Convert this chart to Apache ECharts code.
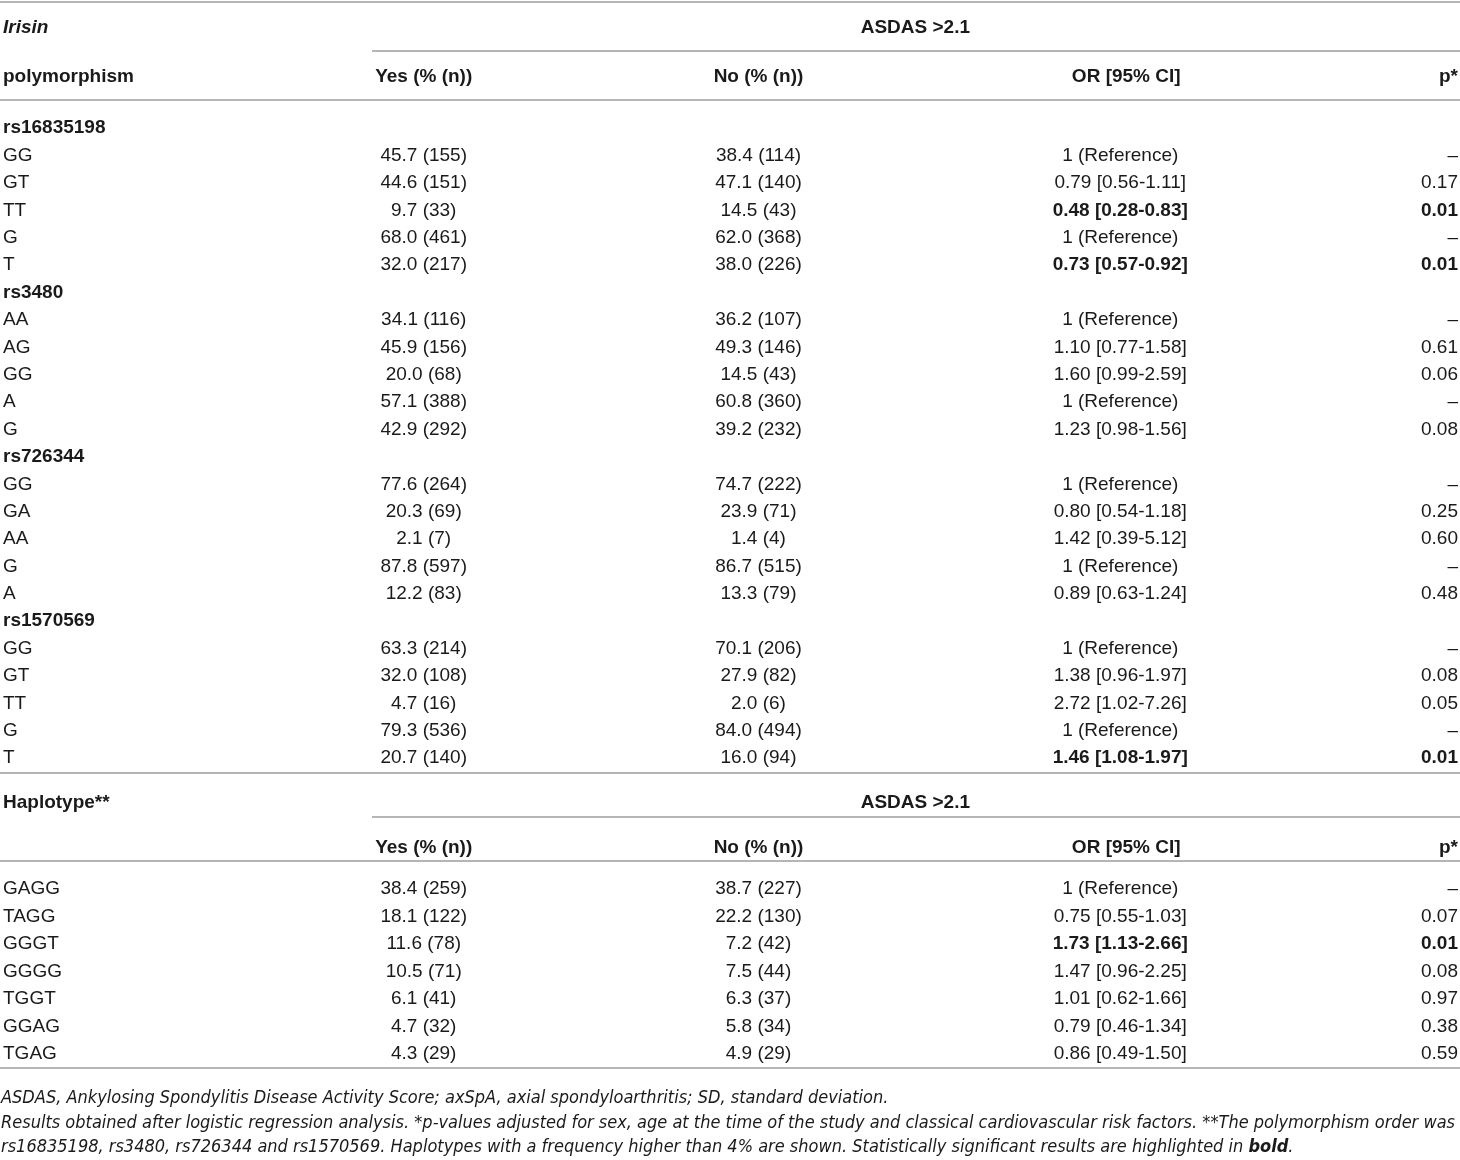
<!DOCTYPE html>
<html>
<head>
<meta charset="utf-8">
<title>Irisin polymorphism - ASDAS &gt;2.1</title>
<script src="https://cdn.jsdelivr.net/npm/echarts@6/dist/echarts.min.js"></script>
<style>
  html, body { margin: 0; padding: 0; background: #fff; }
  #chart { width: 1460px; height: 1160px; }
</style>
</head>
<body>
<div id="chart"></div>
<script>
// polymorphisms, 5 genotype/allele rows each
var snpNames  = ['rs16835198', 'rs3480', 'rs726344', 'rs1570569'];
var genotypes = ['GG','GT','TT','G','T',  'AA','AG','GG','A','G',  'GG','GA','AA','G','A',  'GG','GT','TT','G','T'];
var yesPct = [45.7,44.6,9.7,68.0,32.0,  34.1,45.9,20.0,57.1,42.9,  77.6,20.3,2.1,87.8,12.2,  63.3,32.0,4.7,79.3,20.7];
var yesN   = [155,151,33,461,217,  116,156,68,388,292,  264,69,7,597,83,  214,108,16,536,140];
var noPct  = [38.4,47.1,14.5,62.0,38.0,  36.2,49.3,14.5,60.8,39.2,  74.7,23.9,1.4,86.7,13.3,  70.1,27.9,2.0,84.0,16.0];
var noN    = [114,140,43,368,226,  107,146,43,360,232,  222,71,4,515,79,  206,82,6,494,94];
var orVal  = [null,0.79,0.48,null,0.73,  null,1.10,1.60,null,1.23,  null,0.80,1.42,null,0.89,  null,1.38,2.72,null,1.46];
var ciLow  = [null,0.56,0.28,null,0.57,  null,0.77,0.99,null,0.98,  null,0.54,0.39,null,0.63,  null,0.96,1.02,null,1.08];
var ciHigh = [null,1.11,0.83,null,0.92,  null,1.58,2.59,null,1.56,  null,1.18,5.12,null,1.24,  null,1.97,7.26,null,1.97];
var pVal   = [null,0.17,0.01,null,0.01,  null,0.61,0.06,null,0.08,  null,0.25,0.60,null,0.48,  null,0.08,0.05,null,0.01];

// haplotypes
var haplotypes = ['GAGG','TAGG','GGGT','GGGG','TGGT','GGAG','TGAG'];
var hYesPct = [38.4,18.1,11.6,10.5,6.1,4.7,4.3];
var hYesN   = [259,122,78,71,41,32,29];
var hNoPct  = [38.7,22.2,7.2,7.5,6.3,5.8,4.9];
var hNoN    = [227,130,42,44,37,34,29];
var hOr     = [null,0.75,1.73,1.47,1.01,0.79,0.86];
var hCiLow  = [null,0.55,1.13,0.96,0.62,0.46,0.49];
var hCiHigh = [null,1.03,2.66,2.25,1.66,1.34,1.50];
var hP      = [null,0.07,0.01,0.08,0.97,0.38,0.59];

var groupTitle = 'ASDAS >2.1';
var colHeads = ['Yes (% (n))', 'No (% (n))', 'OR [95% CI]', 'p*'];
var footLines = [
  'ASDAS, Ankylosing Spondylitis Disease Activity Score; axSpA, axial spondyloarthritis; SD, standard deviation.',
  'Results obtained after logistic regression analysis. *p-values adjusted for sex, age at the time of the study and classical cardiovascular risk factors. **The polymorphism order was',
  'rs16835198, rs3480, rs726344 and rs1570569. Haplotypes with a frequency higher than 4% are shown. Statistically significant results are highlighted in {b|bold}.'
];

// layout
var W = 1460;
var colX = { yes: 423, no: 758, or: 1120, orHead: 1126, p: 1458, group: 915 };
var ink = '#1a1a1a';
var rule = '#9d9d9d';
var font = '"Liberation Sans", Arial, sans-serif';
var fs = 19;
var footFont = '"Liberation Sans Narrow", "DejaVu Sans Condensed", sans-serif';

function fmtCell(p, n) { return p.toFixed(1) + ' (' + n + ')'; }
function fmtOr(o, lo, hi) { return o === null ? '1 (Reference)' : o.toFixed(2) + ' [' + lo.toFixed(2) + '-' + hi.toFixed(2) + ']'; }
function fmtP(p) { return p === null ? '\u2013' : p.toFixed(2); }
function isSig(p) { return p !== null && p < 0.05; }

// body rows: snp title row + its 5 rows
var bodyLabels = [], bodyStyle = [], bodyCells = [];
snpNames.forEach(function (s, si) {
  bodyLabels.push(s); bodyStyle.push('b'); bodyCells.push(null);
  for (var k = 0; k < 5; k++) {
    var i = si * 5 + k;
    bodyLabels.push(genotypes[i]); bodyStyle.push('');
    bodyCells.push({
      yes: fmtCell(yesPct[i], yesN[i]),
      no: fmtCell(noPct[i], noN[i]),
      or: fmtOr(orVal[i], ciLow[i], ciHigh[i]),
      p: fmtP(pVal[i]),
      sig: isSig(pVal[i])
    });
  }
});
var hapCells = haplotypes.map(function (h, i) {
  return {
    yes: fmtCell(hYesPct[i], hYesN[i]),
    no: fmtCell(hNoPct[i], hNoN[i]),
    or: fmtOr(hOr[i], hCiLow[i], hCiHigh[i]),
    p: fmtP(hP[i]),
    sig: isSig(hP[i])
  };
});

var grids = [
  { left: 0, right: 0, top: 3, height: 98 },          // Irisin header
  { left: 0, right: 0, top: 114.5, height: 657.4 },   // polymorphism rows
  { left: 0, right: 0, top: 780, height: 90 },        // Haplotype header
  { left: 0, right: 0, top: 875.5, height: 192.5 }    // haplotype rows
];

var yLabelSets = [
  { data: ['Irisin', 'polymorphism'], style: ['bi', 'b'] },
  { data: bodyLabels, style: bodyStyle },
  { data: ['Haplotype**', ''], style: ['b', ''] },
  { data: haplotypes, style: haplotypes.map(function () { return ''; }) }
];

var xAxes = grids.map(function (g, gi) {
  return { type: 'value', gridIndex: gi, min: 0, max: W, show: false };
});
var yAxes = yLabelSets.map(function (set, gi) {
  return {
    type: 'category', gridIndex: gi, inverse: true, data: set.data,
    axisLine: { show: false }, axisTick: { show: false }, splitLine: { show: false },
    axisLabel: {
      inside: true, margin: 2, interval: 0, fontSize: fs, color: ink, fontFamily: font,
      formatter: function (v, idx) { return set.style[idx] ? '{' + set.style[idx] + '|' + v + '}' : v; },
      rich: {
        b: { fontWeight: 'bold', fontSize: fs, color: ink, fontFamily: font },
        bi: { fontWeight: 'bold', fontStyle: 'italic', fontSize: fs, color: ink, fontFamily: font }
      }
    }
  };
});

function textSeries(gi, items, align, bold) {
  return {
    type: 'scatter', xAxisIndex: gi, yAxisIndex: gi, symbolSize: 0, silent: true,
    itemStyle: { opacity: 1 },
    data: items.map(function (it) {
      return {
        name: it.text, value: [it.x, it.row],
        label: { fontWeight: (bold || it.bold) ? 'bold' : 'normal' }
      };
    }),
    label: {
      show: true, position: 'inside', formatter: '{b}', align: align, verticalAlign: 'middle',
      fontSize: fs, color: ink, fontFamily: font
    }
  };
}

function cellSeries(gi, cells) {
  var yes = [], no = [], or = [], p = [];
  cells.forEach(function (c, r) {
    if (!c) return;
    yes.push({ text: c.yes, x: colX.yes, row: r });
    no.push({ text: c.no, x: colX.no, row: r });
    or.push({ text: c.or, x: colX.or, row: r, bold: c.sig });
    p.push({ text: c.p, x: colX.p, row: r, bold: c.sig });
  });
  return [
    textSeries(gi, yes, 'center'),
    textSeries(gi, no, 'center'),
    textSeries(gi, or, 'center'),
    textSeries(gi, p, 'right')
  ];
}

function headerSeries(gi) {
  return [
    textSeries(gi, [{ text: groupTitle, x: colX.group, row: 0 },
                    { text: colHeads[0], x: colX.yes, row: 1 },
                    { text: colHeads[1], x: colX.no, row: 1 },
                    { text: colHeads[2], x: colX.orHead, row: 1 }], 'center', true),
    textSeries(gi, [{ text: colHeads[3], x: colX.p, row: 1 }], 'right', true)
  ];
}

var series = [].concat(headerSeries(0), cellSeries(1, bodyCells), headerSeries(2), cellSeries(3, hapCells));

// horizontal rules
var rules = [[2, 0], [51, 372], [100, 0], [773, 0], [817, 372], [861, 0], [1068, 0]];
var graphic = rules.map(function (r) {
  return { type: 'line', silent: true, shape: { x1: r[1], y1: r[0], x2: W, y2: r[0] }, style: { stroke: rule, lineWidth: 1.6 } };
});
var footY = [1098, 1123, 1147];
footLines.forEach(function (t, i) {
  graphic.push({
    type: 'text', silent: true, x: 1, y: footY[i],
    style: {
      text: t, fill: ink, verticalAlign: 'middle',
      font: 'italic 18px ' + footFont,
      rich: { b: { fontWeight: 'bold', fontStyle: 'italic', fontSize: 18, fontFamily: footFont, fill: ink } }
    }
  });
});

var myChart = echarts.init(document.getElementById('chart'));
myChart.setOption({
  animation: false,
  backgroundColor: '#fff',
  grid: grids,
  xAxis: xAxes,
  yAxis: yAxes,
  series: series,
  graphic: graphic
});
</script>
</body>
</html>
